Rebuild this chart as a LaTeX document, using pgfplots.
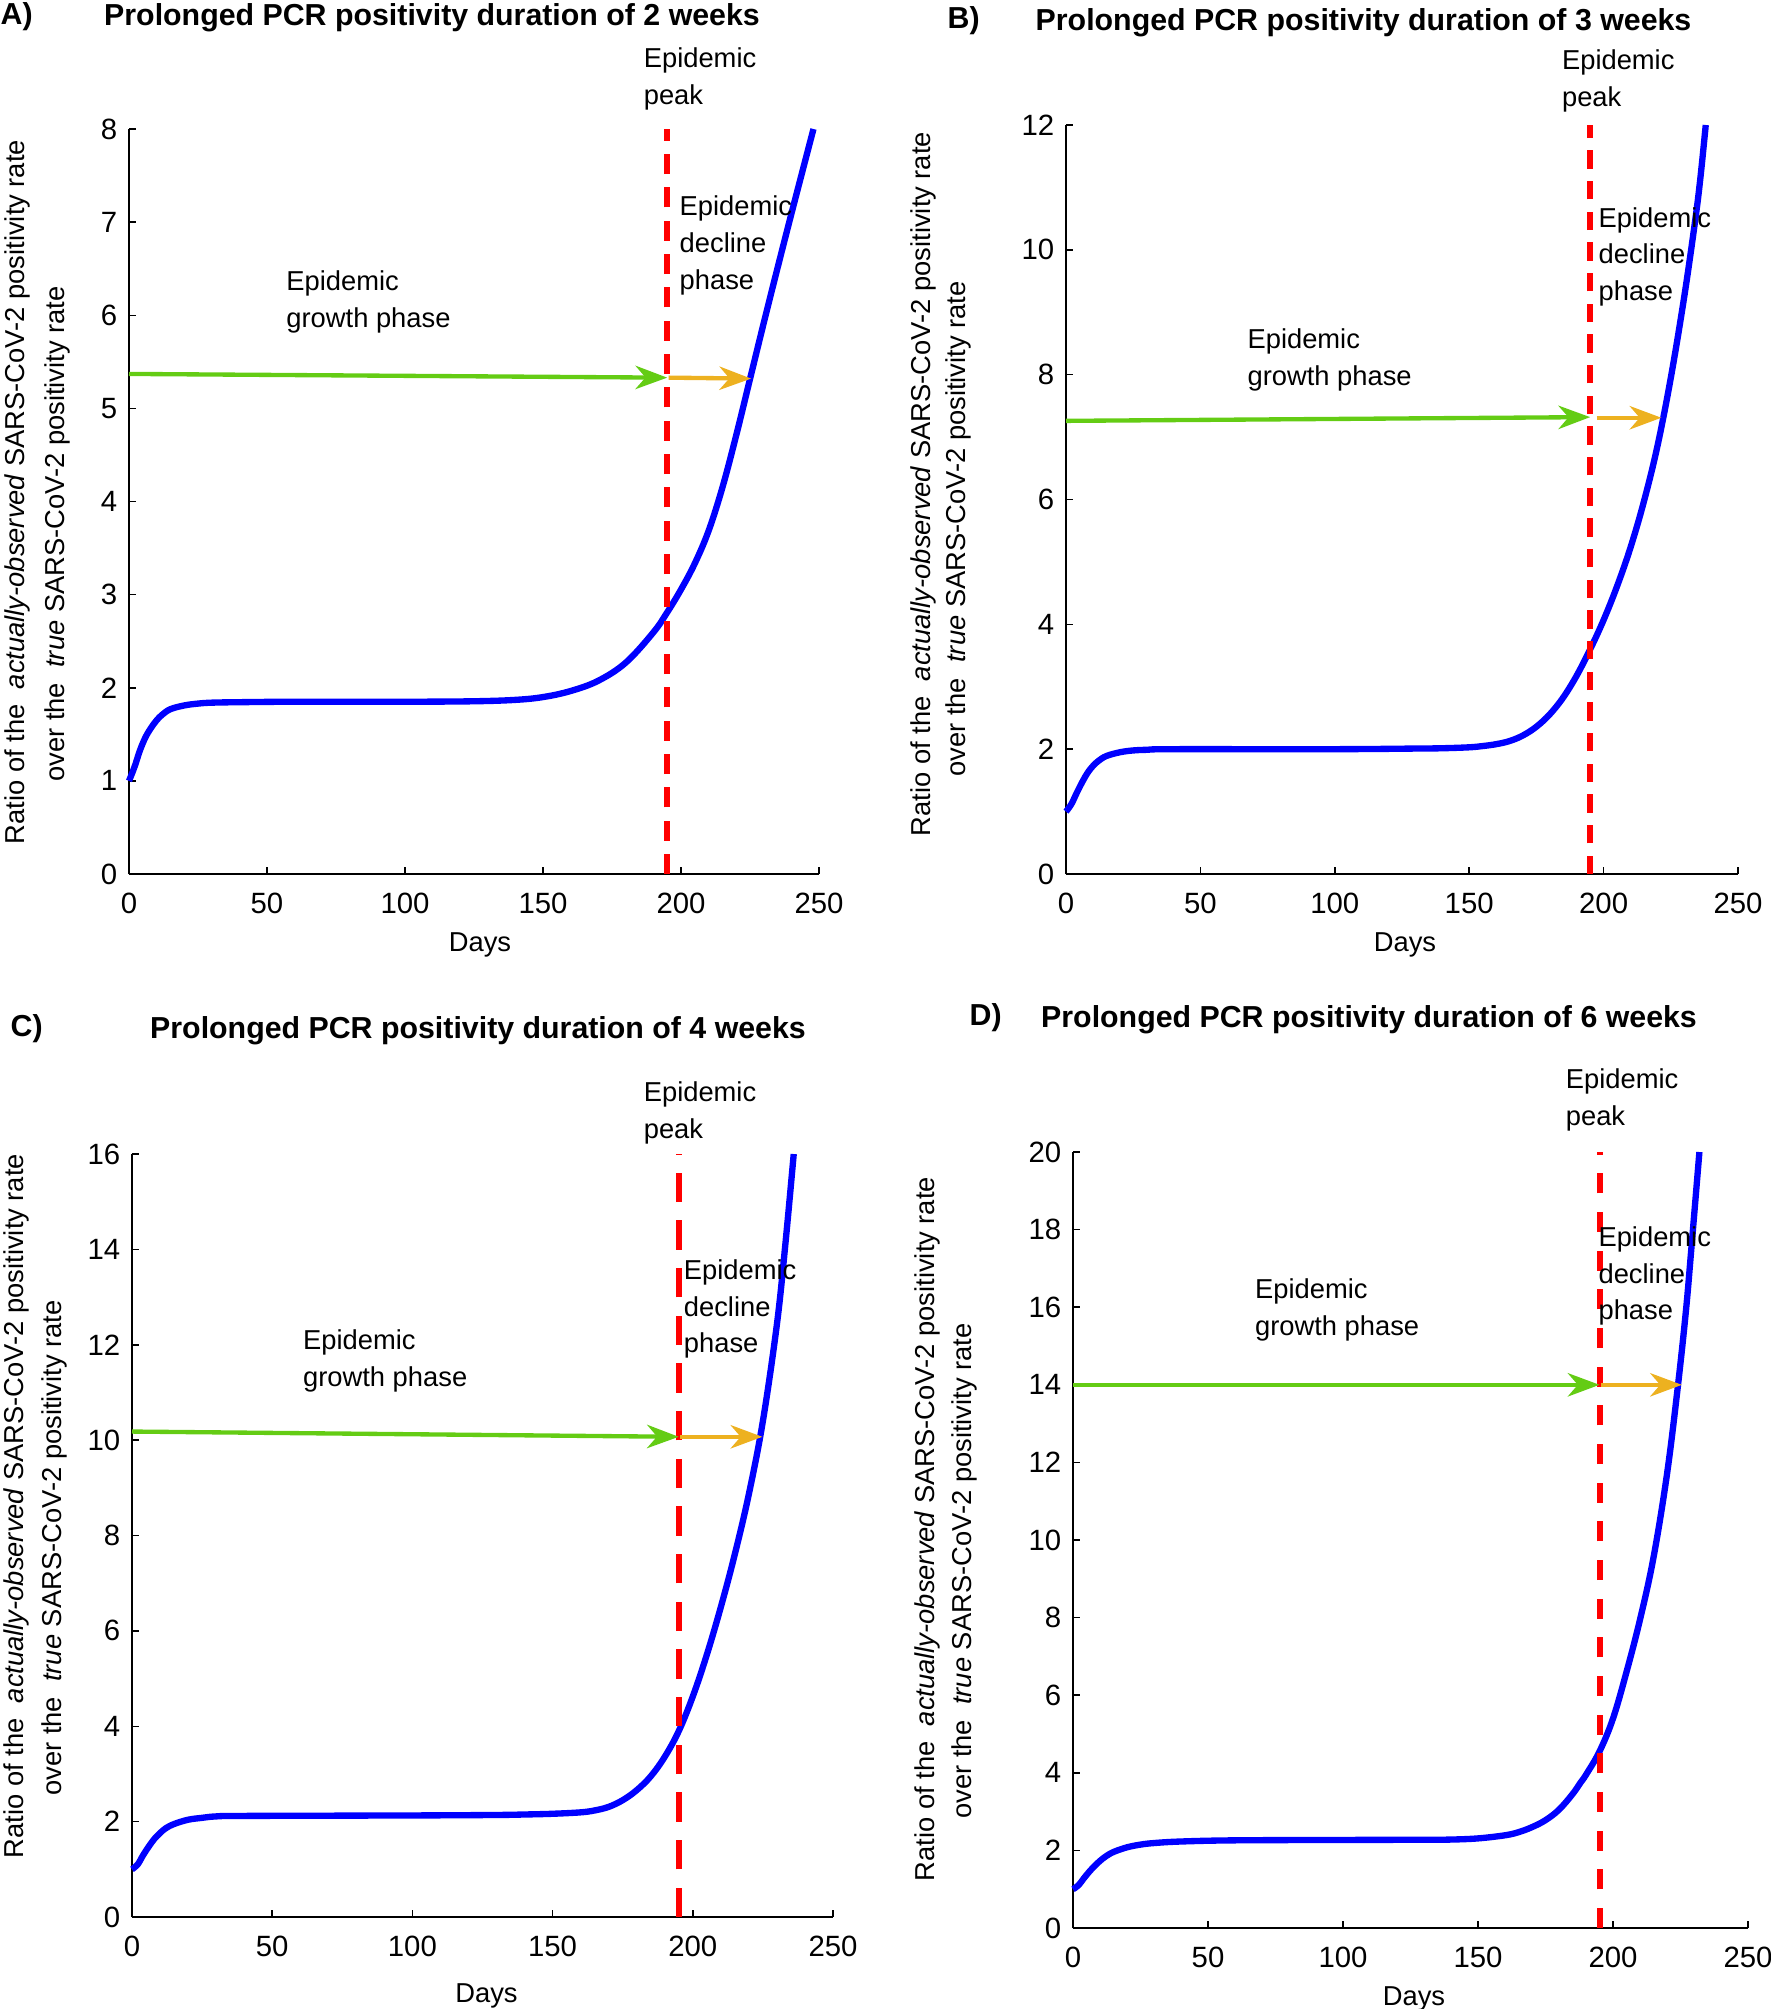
\documentclass[border=0pt]{standalone}
\usepackage{fontspec}
\setmainfont{Liberation Sans}
\usepackage{pgfplots}
\pgfplotsset{compat=1.18}
\usetikzlibrary{arrows.meta}

\definecolor{ratioblue}{RGB}{0,0,255}
\definecolor{peakred}{RGB}{255,0,0}
\definecolor{growgreen}{RGB}{100,204,20}
\definecolor{declorange}{RGB}{237,177,32}

\newcommand\txt{\fontsize{8.2}{11}\selectfont}
\newcommand\ttl{\fontsize{9.1}{11}\selectfont\bfseries}

\tikzset{note/.style={anchor=west, align=left, inner sep=0pt, font=\txt}}

\pgfplotsset{
  panel/.style={
    scale only axis, clip=false,
    anchor=south west,
    axis lines*=left,
    xmin=0, xmax=250, ymin=0,
    xtick={0,50,...,250},
    tick align=inside,
    major tick length=2.2pt,
    axis line style={line width=0.45pt},
    every tick/.style={line width=0.45pt, black},
    tick label style={font=\fontsize{8.8}{10}\selectfont},
    /pgf/number format/assume math mode=true,
    xticklabel style={yshift=-2.3pt},
  },
  ratio/.style={draw=ratioblue, line width=1.9pt, smooth, tension=0.6, no marks},
  peakline/.style={draw=peakred, line width=1.8pt, no marks},
  growarrow/.style={draw=growgreen, line width=1.3pt, no marks,
    -{Stealth[length=9.5pt,width=7pt,inset=3pt]}},
  declarrow/.style={draw=declorange, line width=1.3pt, no marks,
    -{Stealth[length=9.5pt,width=7pt,inset=3pt]}},
}

\begin{document}
\begin{tikzpicture}
\useasboundingbox (0,0) rectangle (531pt,-602.7pt);

% A) 2 weeks
\begin{axis}[panel, at={(38.7pt,-262.2pt)}, width=207pt, height=223.5pt,
  ymax=8, ytick={0,1,...,8}]
\addplot[ratio] coordinates {(0,1.00)(2,1.15)(4,1.33)(6,1.47)(8,1.57)(10,1.65)(12,1.71)(15,1.77)(20,1.81)(25,1.83)(30,1.84)(40,1.845)(60,1.85)(100,1.85)(125,1.855)(140,1.87)(150,1.90)(160,1.965)(170,2.075)(180,2.27)(190,2.595)(195,2.81)(200,3.055)(205,3.335)(210,3.685)(215,4.15)(220,4.71)(225,5.315)(230,5.92)(235,6.51)(240,7.09)(245,7.66)(248,8.00)};
\addplot[peakline, dash pattern=on 6pt off 4pt] coordinates {(195,0) (195,8)};
\addplot[growarrow] coordinates {(0,5.37) (195,5.33)};
\addplot[declarrow] coordinates {(195.5,5.33) (225.4,5.32)};
\node[note] at (axis cs:186.3,8.54) {Epidemic\\peak};
\node[note] at (axis cs:56.8,6.14) {Epidemic\\growth phase};
\node[note] at (axis cs:199.3,6.75) {Epidemic\\decline\\phase};
\end{axis}

% B) 3 weeks
\begin{axis}[panel, at={(319.8pt,-262.2pt)}, width=201.6pt, height=224.7pt,
  ymax=12, ytick={0,2,...,12}]
\addplot[ratio] coordinates {(0,1.00)(2,1.12)(4,1.30)(6,1.47)(8,1.62)(10,1.73)(12,1.81)(15,1.89)(20,1.95)(25,1.98)(30,1.99)(40,2.00)(100,2.00)(130,2.01)(140,2.015)(150,2.03)(155,2.05)(160,2.08)(165,2.13)(170,2.22)(175,2.36)(180,2.56)(185,2.83)(190,3.18)(195,3.60)(200,4.07)(205,4.61)(210,5.23)(215,5.97)(220,6.85)(225,7.95)(230,9.25)(234,10.45)(236,11.15)(238,12.00)};
\addplot[peakline, dash pattern=on 5.5pt off 3.7pt] coordinates {(195,0) (195,12)};
\addplot[growarrow] coordinates {(0,7.26) (195,7.32)};
\addplot[declarrow] coordinates {(197.4,7.31) (221.5,7.31)};
\node[note] at (axis cs:184.3,12.71) {Epidemic\\peak};
\node[note] at (axis cs:67.3,8.24) {Epidemic\\growth phase};
\node[note] at (axis cs:197.9,9.89) {Epidemic\\decline\\phase};
\end{axis}

% C) 4 weeks
\begin{axis}[panel, at={(39.6pt,-575.1pt)}, width=210.3pt, height=228.9pt,
  ymax=16, ytick={0,2,...,16}]
\addplot[ratio] coordinates {(0,1.00)(2,1.10)(4,1.30)(6,1.48)(8,1.64)(10,1.76)(12,1.86)(15,1.95)(20,2.04)(25,2.08)(30,2.11)(40,2.12)(100,2.13)(130,2.14)(140,2.15)(150,2.165)(160,2.195)(165,2.235)(170,2.31)(175,2.45)(180,2.66)(185,2.95)(190,3.36)(195,3.90)(200,4.625)(205,5.50)(210,6.50)(215,7.61)(220,8.87)(225,10.40)(230,12.43)(233,14.10)(236,16.00)};
\addplot[peakline, dash pattern=on 8.8pt off 5.5pt] coordinates {(195,0) (195,16)};
\addplot[growarrow] coordinates {(0,10.18) (195,10.07)};
\addplot[declarrow] coordinates {(195.5,10.07) (224.8,10.07)};
\node[note] at (axis cs:182.3,16.86) {Epidemic\\peak};
\node[note] at (axis cs:60.8,11.66) {Epidemic\\growth phase};
\node[note] at (axis cs:196.6,12.75) {Epidemic\\decline\\phase};
\end{axis}

% D) 6 weeks
\begin{axis}[panel, at={(321.9pt,-578.4pt)}, width=202.5pt, height=232.8pt,
  ymax=20, ytick={0,2,...,20}]
\addplot[ratio] coordinates {(0,1.00)(2,1.10)(4,1.28)(6,1.45)(8,1.60)(10,1.73)(12,1.84)(15,1.96)(20,2.08)(25,2.15)(30,2.19)(40,2.23)(60,2.26)(100,2.27)(130,2.275)(140,2.28)(150,2.31)(160,2.39)(165,2.47)(170,2.60)(175,2.78)(180,3.05)(185,3.45)(188,3.75)(190,3.95)(195,4.55)(200,5.40)(205,6.60)(210,7.95)(215,9.55)(220,11.70)(224,13.95)(227,15.90)(229,17.50)(232,20.00)};
\addplot[peakline, dash pattern=on 6pt off 5.6pt] coordinates {(195,0) (195,20)};
\addplot[growarrow] coordinates {(0,14.0) (195,14.0)};
\addplot[declarrow] coordinates {(195.5,14.0) (225.5,14.0)};
\node[note] at (axis cs:182.3,21.34) {Epidemic\\peak};
\node[note] at (axis cs:67.2,15.93) {Epidemic\\growth phase};
\node[note] at (axis cs:194.4,16.8) {Epidemic\\decline\\phase};
\end{axis}

% titles, panel letters, axis labels (positions in reference pixels)
\begin{scope}[x=0.3pt, y=-0.3pt, every node/.style={inner sep=0pt}]
\node[anchor=west, font=\ttl] at (0,17) {A)};
\node[font=\ttl] at (432,18) {Prolonged PCR positivity duration of 2 weeks};
\node[anchor=west, font=\ttl] at (947,21) {B)};
\node[font=\ttl] at (1363.5,23) {Prolonged PCR positivity duration of 3 weeks};
\node[anchor=west, font=\ttl] at (10,1029) {C)};
\node[font=\ttl] at (478,1031) {Prolonged PCR positivity duration of 4 weeks};
\node[anchor=west, font=\ttl] at (969,1018) {D)};
\node[font=\ttl] at (1369,1020) {Prolonged PCR positivity duration of 6 weeks};

\node[font=\txt] at (480,945) {Days};
\node[font=\txt] at (1405,945) {Days};
\node[font=\txt] at (486.5,1996) {Days};
\node[font=\txt] at (1414,1999) {Days};

\node[font=\txt, rotate=90] at (17,492) {Ratio of the \ \textit{actually-observed} SARS-CoV-2 positivity rate};
\node[font=\txt, rotate=90] at (57,534) {over the \ \textit{true} SARS-CoV-2 positivity rate};
\node[font=\txt, rotate=90] at (923.6,484) {Ratio of the \ \textit{actually-observed} SARS-CoV-2 positivity rate};
\node[font=\txt, rotate=90] at (958.7,529) {over the \ \textit{true} SARS-CoV-2 positivity rate};
\node[font=\txt, rotate=90] at (16,1506) {Ratio of the \ \textit{actually-observed} SARS-CoV-2 positivity rate};
\node[font=\txt, rotate=90] at (54,1548) {over the \ \textit{true} SARS-CoV-2 positivity rate};
\node[font=\txt, rotate=90] at (927.5,1529) {Ratio of the \ \textit{actually-observed} SARS-CoV-2 positivity rate};
\node[font=\txt, rotate=90] at (964,1571) {over the \ \textit{true} SARS-CoV-2 positivity rate};
\end{scope}
\end{tikzpicture}
\end{document}
